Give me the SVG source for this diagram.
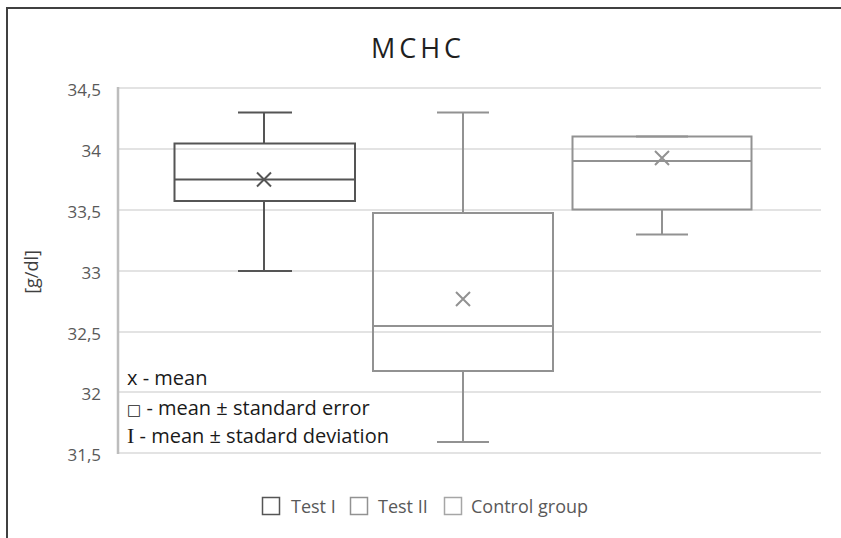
<svg xmlns="http://www.w3.org/2000/svg" width="841" height="538" viewBox="0 0 841 538">
  <style>
    .grid { stroke: #c8c8c8; stroke-width: 1.2; }
    .tick { font-family: "Open Sans", "Liberation Sans", sans-serif; font-size: 17px; fill: #595959; text-anchor: end; }
    .note { font-family: "Open Sans", "Liberation Sans", sans-serif; font-size: 20px; fill: #1a1a1a; }
    .leg { font-family: "Open Sans", "Liberation Sans", sans-serif; font-size: 18px; fill: #595959; }
    .dark { stroke: #555555; stroke-width: 2; fill: none; }
    .light { stroke: #929292; stroke-width: 2; fill: none; }
  </style>

  <rect x="0" y="0" width="841" height="538" fill="#ffffff"/>
  <!-- frame -->
  <path d="M7 538 V8 H841" fill="none" stroke="#404040" stroke-width="2"/>

  <!-- title -->
  <text x="418" y="58" text-anchor="middle" font-family="Open Sans, Liberation Sans, sans-serif" font-size="27" letter-spacing="4" fill="#1f1f1f">MCHC</text>

  <!-- grid and value axis -->
  <g id="grid">
    <line class="grid" x1="118" y1="88" x2="821" y2="88"/>
    <line class="grid" x1="118" y1="149" x2="821" y2="149"/>
    <line class="grid" x1="118" y1="210" x2="821" y2="210"/>
    <line class="grid" x1="118" y1="271" x2="821" y2="271"/>
    <line class="grid" x1="118" y1="332" x2="821" y2="332"/>
    <line class="grid" x1="118" y1="392" x2="821" y2="392"/>
    <line class="grid" x1="118" y1="453" x2="821" y2="453"/>
    <line x1="118" y1="87" x2="118" y2="454" stroke="#bdbdbd" stroke-width="2.5"/>
  </g>
  <g id="ticks">
    <text class="tick" x="101" y="96">34,5</text>
    <text class="tick" x="101" y="157">34</text>
    <text class="tick" x="101" y="218">33,5</text>
    <text class="tick" x="101" y="279">33</text>
    <text class="tick" x="101" y="340">32,5</text>
    <text class="tick" x="101" y="400">32</text>
    <text class="tick" x="101" y="461">31,5</text>
  </g>
  <text transform="translate(38 272) rotate(-90)" text-anchor="middle" font-family="Open Sans, Liberation Sans, sans-serif" font-size="18" fill="#404040">[g/dl]</text>

  <!-- Test I -->
  <g id="test-1">
    <path class="dark" d="M264 112.5 V143.5 M238 112.5 H292 M264 201 V271 M238 271 H292"/>
    <rect class="dark" x="174.5" y="143.5" width="180.5" height="57.5"/>
    <line class="dark" x1="174.5" y1="179.5" x2="355" y2="179.5"/>
    <path class="dark" d="M257 172.5 L271 186.5 M271 172.5 L257 186.5"/>
  </g>

  <!-- Test II -->
  <g id="test-2">
    <path class="light" d="M463 112.5 V213 M437 112.5 H489 M463 371 V442 M437 442 H489"/>
    <rect class="light" x="373" y="213" width="180" height="158"/>
    <line class="light" x1="373" y1="326" x2="553" y2="326"/>
    <path class="light" d="M456 292 L470 306 M470 292 L456 306"/>
  </g>

  <!-- Control group -->
  <g id="control">
    <path class="light" d="M662 210 V234.5 M636 234.5 H688 M636 136.5 H688"/>
    <rect class="light" x="572.5" y="136.5" width="179" height="73"/>
    <line class="light" x1="572.5" y1="161" x2="751.5" y2="161"/>
    <path class="light" d="M655 151 L669 165 M669 151 L655 165"/>
  </g>

  <!-- notes -->
  <g id="notes">
    <text class="note" x="127" y="385">x - mean</text>
    <text class="note" x="127" y="415"><tspan font-family="DejaVu Sans, sans-serif" font-size="15">□</tspan> - mean ± standard error</text>
    <text class="note" x="127" y="443"><tspan font-family="Liberation Serif, serif" font-size="22">I</tspan> - mean ± stadard deviation</text>
  </g>

  <!-- legend -->
  <g id="legend">
    <rect x="262.5" y="497.5" width="17" height="17" fill="#ffffff" stroke="#555555" stroke-width="1.5"/>
    <text class="leg" x="291" y="513">Test I</text>
    <rect x="350.5" y="497.5" width="17" height="17" fill="#ffffff" stroke="#929292" stroke-width="1.5"/>
    <text class="leg" x="378" y="513">Test II</text>
    <rect x="444.5" y="497.5" width="17" height="17" fill="#ffffff" stroke="#a6a6a6" stroke-width="1.5"/>
    <text class="leg" x="471" y="513">Control group</text>
  </g>
</svg>
